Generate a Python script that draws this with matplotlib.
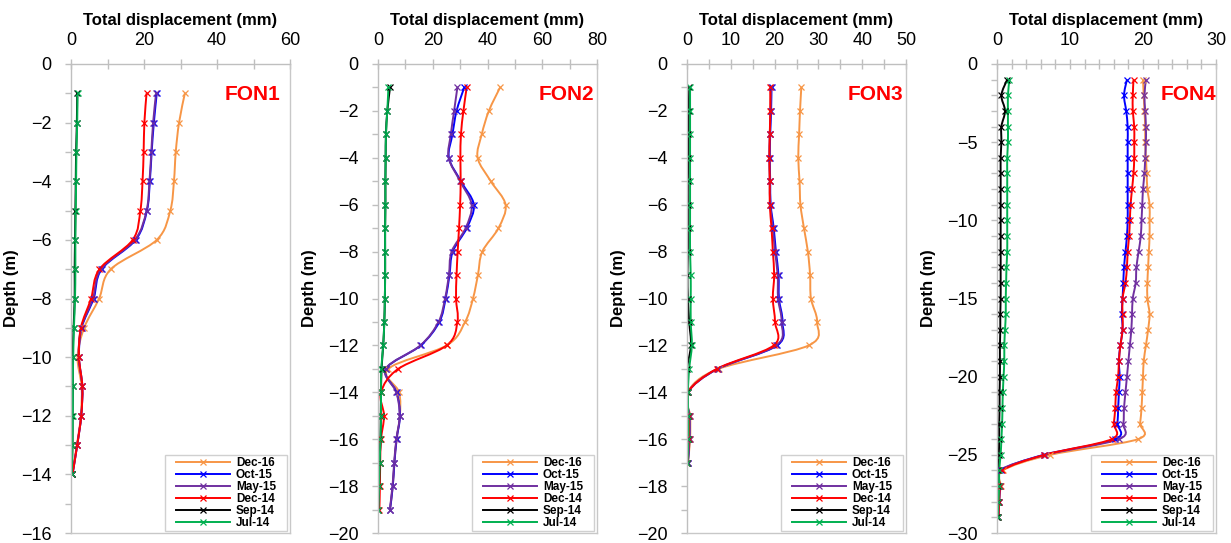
import matplotlib
matplotlib.use("Agg")
import matplotlib.pyplot as plt
from matplotlib.path import Path
from matplotlib.patches import PathPatch, Rectangle
from matplotlib.lines import Line2D
from matplotlib.ticker import MultipleLocator

plt.rcParams['font.family'] = ['Liberation Sans', 'DejaVu Sans']

# series names and colours
series = ["Dec-16", "Oct-15", "May-15", "Dec-14", "Sep-14", "Jul-14"]
colors = ["#F79646", "#0000FF", "#7030A0", "#FF0000", "#000000", "#00B050"]

# FON1
fon1_depth = [-1, -2, -3, -4, -5, -6, -7, -8, -9, -10, -11, -12, -13, -14]
fon1_dec16 = [31.2, 29.6, 28.7, 28.2, 27.2, 23.5, 10.9, 7.7, 3.6, 1.8, 2.9, 2.7, 1.6, 0.3]
fon1_oct15 = [23.5, 22.7, 22.1, 21.6, 20.8, 17.7, 8.4, 6.2, 2.9, 2.2, 3.1, 2.8, 1.7, 0.4]
fon1_may15 = [23.3, 22.5, 22.0, 21.5, 20.7, 17.5, 8.2, 6.0, 2.8, 2.1, 3.1, 2.8, 1.7, 0.4]
fon1_dec14 = [20.7, 20.1, 19.9, 19.6, 19.0, 16.9, 7.8, 5.5, 2.7, 2.2, 3.1, 2.8, 1.7, 0.4]
fon1_sep14 = [1.7, 1.6, 1.4, 1.3, 1.2, 1.1, 1.0, 1.0, 0.7, 0.5, 0.5, 0.4, 0.4, 0.2]
fon1_jul14 = [1.8, 1.7, 1.5, 1.4, 1.3, 1.2, 1.2, 1.1, 0.8, 0.6, 0.5, 0.5, 0.4, 0.2]

# FON2
fon2_depth = [-1, -2, -3, -4, -5, -6, -7, -8, -9, -10, -11, -12, -13, -14, -15, -16, -17, -18, -19]
fon2_dec16 = [44.6, 40.5, 37.9, 36.4, 41.2, 46.6, 44.0, 38.1, 36.5, 34.7, 31.8, 25.1, 3.7, 7.7, 8.0, 6.8, 6.0, 5.4, 4.4]
fon2_oct15 = [31.5, 28.7, 27.2, 25.9, 30.3, 35.0, 32.4, 27.3, 26.1, 24.7, 22.4, 15.6, 2.9, 6.8, 8.0, 6.8, 6.0, 5.4, 4.4]
fon2_may15 = [29.0, 27.8, 26.6, 25.8, 30.0, 34.2, 32.0, 26.9, 25.9, 24.5, 22.1, 15.5, 2.8, 6.7, 7.9, 6.7, 5.9, 5.3, 4.3]
fon2_dec14 = [32.4, 31.2, 30.3, 30.1, 30.2, 30.0, 29.6, 29.1, 28.7, 28.5, 29.0, 25.1, 7.4, 1.1, 2.2, 1.1, 0.8, 0.7, 0.5]
fon2_sep14 = [4.4, 3.4, 2.9, 2.8, 2.7, 2.7, 2.6, 2.6, 2.6, 2.5, 2.3, 1.9, 1.3, 1.1, 1.0, 0.9, 0.6, 0.4, 0.1]
fon2_jul14 = [3.8, 3.4, 2.9, 2.8, 2.7, 2.7, 2.6, 2.6, 2.6, 2.5, 2.3, 1.9, 1.2, 1.1, 1.1, 0.9, 0.6, 0.4, 0.1]

# FON3
fon3_depth = [-1, -2, -3, -4, -5, -6, -7, -8, -9, -10, -11, -12, -13, -14, -15, -16, -17]
fon3_dec16 = [26.1, 25.8, 25.6, 25.4, 25.7, 25.9, 26.7, 27.6, 28.1, 28.3, 29.7, 27.8, 7.2, 0.1, 0.7, 0.7, 0.2]
fon3_oct15 = [19.3, 19.2, 19.0, 18.9, 19.0, 19.1, 19.8, 20.3, 20.9, 21.0, 21.8, 20.6, 7.0, 0.2, 0.5, 0.5, 0.2]
fon3_may15 = [19.2, 19.1, 18.9, 18.8, 18.9, 19.0, 19.6, 20.1, 20.7, 20.8, 21.6, 20.4, 7.0, 0.2, 0.6, 0.6, 0.2]
fon3_dec14 = [19.0, 19.0, 18.9, 18.8, 18.9, 18.9, 19.3, 19.6, 19.9, 19.6, 20.1, 19.8, 6.8, 0.2, 0.4, 0.4, 0.1]
fon3_sep14 = [0.5, 0.4, 0.3, 0.3, 0.2, 0.2, 0.2, 0.2, 0.1, 0.2, 0.5, 0.9, 0.0, 0.1, 0.2, 0.2, 0.0]
fon3_jul14 = [0.7, 0.7, 0.7, 0.7, 0.7, 0.7, 0.7, 0.7, 0.85, 0.85, 0.85, 1.1, 0.5, 0.2, 0.3, 0.3, 0.1]

# FON4
fon4_depth = [-1, -2, -3, -4, -5, -6, -7, -8, -9, -10, -11, -12, -13, -14, -15,
              -16, -17, -18, -19, -20, -21, -22, -23, -24, -25, -26, -27, -28, -29]
fon4_dec16 = [20.0, 20.1, 20.2, 20.3, 20.3, 20.4, 20.5, 20.6, 20.9, 20.9, 20.9, 20.8, 20.7, 20.6, 20.6,
              20.9, 20.7, 20.4, 20.1, 20.0, 19.9, 19.8, 19.6, 19.3, 7.3, 0.8, 0.5, 0.3, 0.2]
fon4_oct15 = [17.8, 17.4, 17.7, 17.9, 17.9, 17.9, 17.9, 17.9, 17.9, 17.9, 17.8, 17.6, 17.4, 17.3, 17.2,
              17.1, 17.2, 16.9, 16.7, 16.8, 16.7, 16.6, 16.5, 16.2, 6.4, 0.5, 0.4, 0.3, 0.2]
fon4_may15 = [20.4, 20.2, 20.3, 20.4, 20.4, 20.3, 20.2, 20.0, 19.9, 19.8, 19.7, 19.4, 19.1, 19.0, 18.6,
              18.5, 18.4, 18.2, 18.0, 17.8, 17.6, 17.4, 17.3, 16.7, 6.6, 0.3, 0.3, 0.2, 0.1]
fon4_dec14 = [18.7, 18.6, 18.6, 18.8, 18.8, 18.8, 18.7, 18.5, 18.3, 18.2, 18.1, 17.9, 17.8, 17.6, 17.2,
              17.2, 17.2, 16.9, 16.7, 16.6, 16.3, 16.2, 16.0, 15.7, 6.5, 0.7, 0.4, 0.3, 0.2]
fon4_sep14 = [1.4, 0.6, 1.1, 0.6, 0.6, 0.5, 0.5, 0.5, 0.5, 0.5, 0.5, 0.5, 0.5, 0.5, 0.5,
              0.45, 0.45, 0.4, 0.4, 0.4, 0.35, 0.35, 0.3, 0.3, 0.25, 0.2, 0.15, 0.1, 0.0]
fon4_jul14 = [1.7, 1.5, 1.5, 1.5, 1.5, 1.4, 1.4, 1.4, 1.4, 1.4, 1.4, 1.4, 1.3, 1.25, 1.2,
              1.2, 1.1, 1.0, 1.0, 0.9, 0.8, 0.75, 0.7, 0.6, 0.5, 0.3, 0.3, 0.2, 0.1]

panels = [
    ("FON1", fon1_depth, [fon1_dec16, fon1_oct15, fon1_may15, fon1_dec14, fon1_sep14, fon1_jul14],
     60, 20, 10, -16, 2, 1),
    ("FON2", fon2_depth, [fon2_dec16, fon2_oct15, fon2_may15, fon2_dec14, fon2_sep14, fon2_jul14],
     80, 20, 10, -20, 2, 1),
    ("FON3", fon3_depth, [fon3_dec16, fon3_oct15, fon3_may15, fon3_dec14, fon3_sep14, fon3_jul14],
     50, 10, 5, -20, 2, 1),
    ("FON4", fon4_depth, [fon4_dec16, fon4_oct15, fon4_may15, fon4_dec14, fon4_sep14, fon4_jul14],
     30, 10, 2, -30, 5, 1),
]

lefts = [71, 378, 687, 997]
ylabel_x = [-0.237, -0.279, -0.279, -0.279]
name_x = [0.954, 0.986, 0.986, 1.0]


def smooth_path(x, y):
    # Excel-style smoothed line through the points (cubic bezier segments)
    n = len(x)
    verts = [(x[0], y[0])]
    codes = [Path.MOVETO]
    for i in range(n - 1):
        xa, ya = (x[i - 1], y[i - 1]) if i > 0 else (x[i], y[i])
        xb, yb = (x[i + 2], y[i + 2]) if i + 2 < n else (x[i + 1], y[i + 1])
        c1 = (x[i] + (x[i + 1] - xa) / 6, y[i] + (y[i + 1] - ya) / 6)
        c2 = (x[i + 1] - (xb - x[i]) / 6, y[i + 1] - (yb - y[i]) / 6)
        verts += [c1, c2, (x[i + 1], y[i + 1])]
        codes += [Path.CURVE4] * 3
    return Path(verts, codes)


W, H = 1231, 543
fig = plt.figure(figsize=(W / 100, H / 100), dpi=100)
grey = "#BFBFBF"
legends = []

for k, (name, depth, vals, xmax, xmaj, xmin, ymin, ymaj, ymn) in enumerate(panels):
    ax = fig.add_axes([lefts[k] / W, 10 / H, 219 / W, 469 / H])
    for s, c, v in zip(series, colors, vals):
        ax.add_patch(PathPatch(smooth_path(v, depth), fill=False, edgecolor=c, lw=1.4))
        ax.plot(v, depth, linestyle="none", marker="x", color=c, ms=4.5, mew=0.9)
    ax.set_xlim(0, xmax)
    ax.set_ylim(ymin, 0)
    ax.xaxis.tick_top()
    ax.xaxis.set_label_position("top")
    ax.xaxis.set_major_locator(MultipleLocator(xmaj))
    ax.xaxis.set_minor_locator(MultipleLocator(xmin))
    ax.yaxis.set_major_locator(MultipleLocator(ymaj))
    ax.yaxis.set_minor_locator(MultipleLocator(ymn))
    ax.tick_params(axis="x", which="both", direction="inout", length=7, width=1,
                   color=grey, labelsize=13, pad=7)
    ax.tick_params(axis="y", which="both", direction="out", length=4, width=1,
                   color=grey, labelsize=13, pad=10)
    for sp in ax.spines.values():
        sp.set_color("#C8C8C8")
        sp.set_linewidth(1)
    ax.spines["left"].set_color(grey)
    ax.spines["top"].set_color(grey)
    ax.set_xlabel("Total displacement (mm)", fontsize=12, fontweight="bold", labelpad=5)
    ax.set_ylabel("Depth (m)", fontsize=12, fontweight="bold")
    ax.yaxis.set_label_coords(ylabel_x[k], 0.523)
    ax.text(name_x[k], 0.936, name, transform=ax.transAxes, color="#FF0000",
            fontsize=15, fontweight="bold", ha="right", va="center")
    handles = [Line2D([], [], color=c, lw=1.4, marker="x", ms=4.5, mew=0.9) for c in colors]
    leg = ax.legend(handles, series, loc="lower right", frameon=False,
                    bbox_to_anchor=(1 - 14 / 219, 4 / 469), borderaxespad=0, borderpad=0,
                    prop={"size": 8.5, "weight": "bold"},
                    handlelength=4.6, handletextpad=0.5, labelspacing=0.0, numpoints=1)
    legends.append(leg)

# legend frames: wider side padding than matplotlib's borderpad gives
fig.canvas.draw()
for leg in legends:
    bb = leg.get_window_extent()
    fig.add_artist(Rectangle((bb.x0 - 11, bb.y0 - 2), bb.width + 22, bb.height + 4,
                             transform=None, facecolor="none", edgecolor="#D0D0D0", lw=1))

plt.savefig("out.png", dpi=100)
